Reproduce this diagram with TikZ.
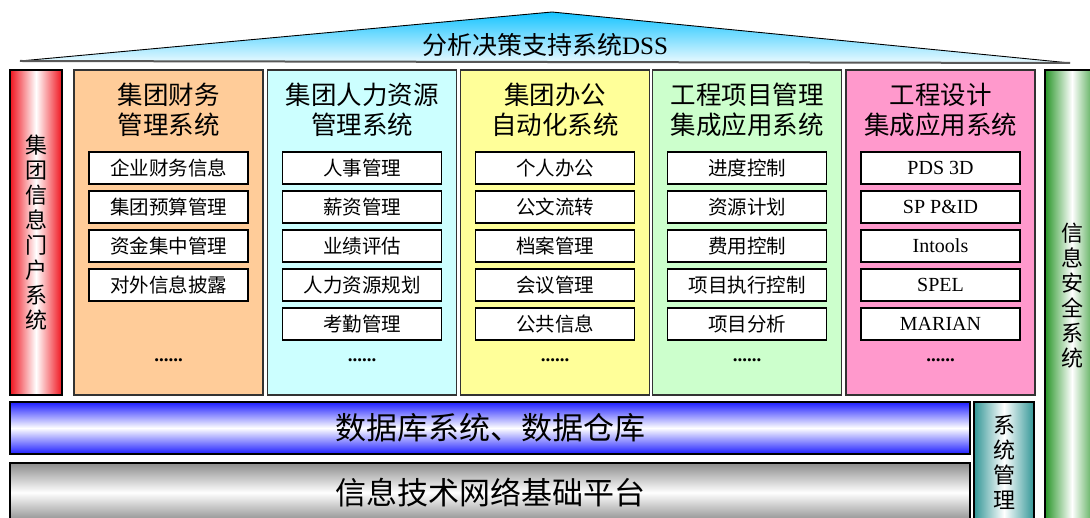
\documentclass[tikz,border=0pt]{standalone}
\usepackage{fontspec}
\setmainfont{Liberation Serif}
\newfontfamily\cjk{Noto Sans CJK SC}
\definecolor{roofTop}{RGB}{20,195,255}
\definecolor{roofBot}{RGB}{235,250,255}
\definecolor{cFin}{RGB}{255,204,153}
\definecolor{cHR}{RGB}{204,255,255}
\definecolor{cOA}{RGB}{255,255,153}
\definecolor{cPM}{RGB}{204,255,204}
\definecolor{cDes}{RGB}{255,153,204}
\definecolor{barRed}{RGB}{240,20,30}
\definecolor{barGreen}{RGB}{40,150,40}
\definecolor{barTeal}{RGB}{50,150,150}
\definecolor{barBlue}{RGB}{30,30,255}
\definecolor{barGray}{RGB}{140,140,140}
\begin{document}
\begin{tikzpicture}[x=1pt,y=-1pt,
  col/.style={draw=black!80, line width=1.2pt, minimum width=189pt, minimum height=325pt, inner sep=0pt},
  coltitle/.style={align=center, inner sep=0pt, font=\fontsize{25.5}{30}\selectfont\cjk},
  item/.style={draw=black, line width=1.5pt, fill=white, minimum width=159pt, minimum height=32pt, inner sep=0pt, font=\fontsize{19.5}{22}\selectfont\cjk},
  latitem/.style={item, font=\fontsize{20}{22}\selectfont},
  dots/.style={inner sep=0pt, font=\fontsize{19}{22}\selectfont\bfseries},
  vbar/.style={draw=black, line width=1.5pt, inner sep=0pt, align=center, font=\fontsize{22}{25}\selectfont\cjk},
  hbar/.style={draw=black, line width=1.5pt, inner sep=0pt, font=\fontsize{31}{34}\selectfont\cjk}
]
\useasboundingbox (0,0) rectangle (1090,518);
% roof
\coordinate (rl) at (20,61);
\coordinate (ra) at (552,12);
\coordinate (rr) at (1070,63);
\shade[top color=roofTop, bottom color=roofBot] (rl) -- (ra) -- (rr) -- cycle;
\draw[line width=0.9pt] (rl) -- (ra) -- (rr);
\draw[line width=2pt, black!65] (rl) -- (rr);
\node[inner sep=0pt, font=\fontsize{25}{28}\selectfont] (roof) at (545,45) {{\cjk 分析决策支持系统}DSS};
% left portal bar
\node[vbar, minimum width=52pt, minimum height=325pt, left color=barRed, right color=barRed, middle color=white] (portal) at (36,232.5) {集\\团\\信\\息\\门\\户\\系\\统};
% right security bar
\node[vbar, minimum width=54pt, minimum height=452pt, left color=barGreen, right color=barGreen, middle color=white] (sec) at (1072,296) {信\\息\\安\\全\\系\\统};
% system management
\node[vbar, minimum width=60pt, minimum height=120pt, left color=barTeal, right color=barTeal, middle color=white] (sysm) at (1004,462) {系\\统\\管\\理};
% database bar
\node[hbar, minimum width=960pt, minimum height=52pt, top color=barBlue, bottom color=barBlue, middle color=white] (db) at (490,428) {数据库系统、数据仓库};
% network platform
\node[hbar, minimum width=960pt, minimum height=59pt, top color=barGray, bottom color=barGray, middle color=white] (net) at (490,492.5) {信息技术网络基础平台};
% columns
\node[col, fill=cFin] (c1) at (168.5,232.5) {};
\node[col, fill=cHR] (c2) at (362,232.5) {};
\node[col, fill=cOA] (c3) at (555,232.5) {};
\node[col, fill=cPM] (c4) at (747,232.5) {};
\node[col, fill=cDes] (c5) at (940.5,232.5) {};
\node[coltitle] (t1) at (168.5,110) {集团财务\\管理系统};
\node[coltitle] (t2) at (362,110) {集团人力资源\\管理系统};
\node[coltitle] (t3) at (555,110) {集团办公\\自动化系统};
\node[coltitle] (t4) at (747,110) {工程项目管理\\集成应用系统};
\node[coltitle] (t5) at (940.5,110) {工程设计\\集成应用系统};
\foreach \t [count=\k] in {企业财务信息,集团预算管理,资金集中管理,对外信息披露}
  \node[item] (a\k) at (168.5,168+39*\k-39) {\t};
\foreach \t [count=\k] in {人事管理,薪资管理,业绩评估,人力资源规划,考勤管理}
  \node[item] (b\k) at (362,168+39*\k-39) {\t};
\foreach \t [count=\k] in {个人办公,公文流转,档案管理,会议管理,公共信息}
  \node[item] (o\k) at (555,168+39*\k-39) {\t};
\foreach \t [count=\k] in {进度控制,资源计划,费用控制,项目执行控制,项目分析}
  \node[item] (p\k) at (747,168+39*\k-39) {\t};
\foreach \t [count=\k] in {PDS 3D,SP P\&ID,Intools,SPEL,MARIAN}
  \node[latitem] (d\k) at (940.5,168+39*\k-39) {\t};
\node[dots] (e1) at (168.5,360) {......};
\node[dots] (e2) at (362,360) {......};
\node[dots] (e3) at (555,360) {......};
\node[dots] (e4) at (747,360) {......};
\node[dots] (e5) at (940.5,360) {......};
\end{tikzpicture}
\end{document}
